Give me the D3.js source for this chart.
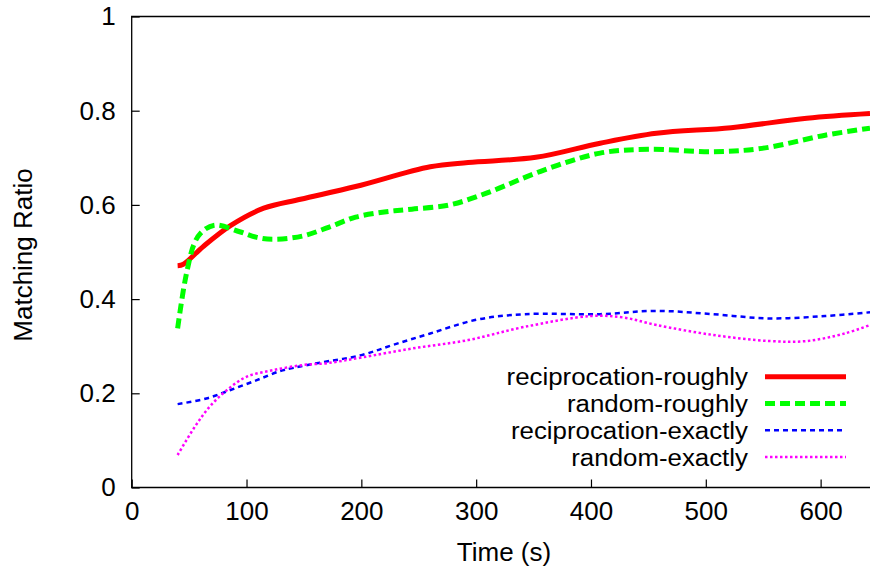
<!DOCTYPE html>
<html>
<head>
<meta charset="utf-8">
<script src="https://cdn.jsdelivr.net/npm/d3@7"></script>
<style>
  html, body { margin: 0; padding: 0; background: #fff; }
  svg { display: block; }
  text { font-family: "Liberation Sans", Arial, Helvetica, sans-serif; fill: #000; }
</style>
</head>
<body>
<svg id="chart" width="870" height="571"></svg>
<script>
// ---- data ----
const xTicks = [0, 100, 200, 300, 400, 500, 600];
const yTicks = [0, 0.2, 0.4, 0.6, 0.8, 1];
const yTickLabels = ["0", "0.2", "0.4", "0.6", "0.8", "1"];
const seriesNames = ["reciprocation-roughly", "random-roughly", "reciprocation-exactly", "random-exactly"];

const recipRoughT = [40, 45, 62, 86, 115, 147, 195, 260, 293, 352, 408, 457, 522, 588, 643];
const recipRoughV = [0.471, 0.474, 0.511, 0.556, 0.593, 0.612, 0.639, 0.681, 0.690, 0.701, 0.731, 0.752, 0.764, 0.784, 0.794];

const randRoughT = [40, 45, 49, 54, 60, 72, 94, 109, 123, 149, 172, 195, 220, 244, 277, 309, 359, 408, 450, 506, 549, 604, 643];
const randRoughV = [0.338, 0.419, 0.469, 0.515, 0.540, 0.557, 0.543, 0.531, 0.527, 0.534, 0.553, 0.574, 0.585, 0.591, 0.600, 0.625, 0.674, 0.710, 0.718, 0.713, 0.720, 0.748, 0.763];

const recipExactT = [40, 65, 86, 109, 129, 141, 164, 200, 228, 260, 300, 342, 408, 457, 506, 555, 604, 643];
const recipExactV = [0.177, 0.189, 0.207, 0.228, 0.247, 0.254, 0.265, 0.281, 0.303, 0.327, 0.356, 0.368, 0.368, 0.375, 0.368, 0.359, 0.364, 0.372];

const randExactT = [40, 55, 68, 83, 100, 123, 149, 170, 200, 244, 293, 342, 400, 428, 457, 506, 555, 588, 621, 643];
const randExactV = [0.069, 0.129, 0.172, 0.207, 0.235, 0.249, 0.260, 0.264, 0.276, 0.295, 0.313, 0.341, 0.364, 0.361, 0.345, 0.324, 0.311, 0.311, 0.327, 0.345];

// ---- layout ----
const mLeft = 131.7, mTop = 16.5, mBottom = 487.5, mRight = 870;
const svg = d3.select("#chart");
const x = d3.scaleLinear().domain([0, 643]).range([mLeft, mRight]);
const y = d3.scaleLinear().domain([0, 1]).range([mBottom, mTop]);

const styles = [
  { color: "#ff0000", width: 5, dash: null },
  { color: "#00ff00", width: 5, dash: "10,5" },
  { color: "#0000ff", width: 2.5, dash: "5,4" },
  { color: "#ff00ff", width: 2.5, dash: "2.5,2.5" }
];
const series = [
  { t: recipRoughT, v: recipRoughV },
  { t: randRoughT, v: randRoughV },
  { t: recipExactT, v: recipExactV },
  { t: randExactT, v: randExactV }
];

// frame (right border falls outside the picture)
svg.append("path")
  .attr("d", `M${mRight + 20},${mTop}H${mLeft}V${mBottom}H${mRight + 20}`)
  .attr("fill", "none").attr("stroke", "#000").attr("stroke-width", 1.3);

// axes via d3
const fontSize = 26;
const xAxis = d3.axisBottom(x).tickValues(xTicks).tickSize(-8).tickPadding(14).tickFormat(d3.format("d"));
const gx = svg.append("g").attr("transform", `translate(0,${mBottom})`).call(xAxis);
gx.select(".domain").remove();
gx.selectAll(".tick line").attr("stroke", "#000").attr("stroke-width", 1.2);
gx.selectAll(".tick text").attr("font-size", fontSize).attr("font-family", "Liberation Sans, Arial, sans-serif").attr("fill", "#000");

const yAxis = d3.axisLeft(y).tickValues(yTicks).tickSize(-8).tickPadding(16)
  .tickFormat((d, i) => yTickLabels[i]);
const gy = svg.append("g").attr("transform", `translate(${mLeft},0)`).call(yAxis);
gy.select(".domain").remove();
gy.selectAll(".tick line").attr("stroke", "#000").attr("stroke-width", 1.2);
gy.selectAll(".tick text").attr("font-size", fontSize).attr("font-family", "Liberation Sans, Arial, sans-serif").attr("fill", "#000");

// axis titles
svg.append("text").attr("x", 504).attr("y", 561).attr("text-anchor", "middle")
  .attr("font-size", fontSize).text("Time (s)");
svg.append("text").attr("transform", "translate(32,255) rotate(-90)").attr("text-anchor", "middle")
  .attr("font-size", fontSize).text("Matching Ratio");

// lines
svg.append("clipPath").attr("id", "plotclip").append("rect")
  .attr("x", mLeft).attr("y", mTop).attr("width", 1000).attr("height", mBottom - mTop);
const line = d3.line().x(d => x(d[0])).y(d => y(d[1])).curve(d3.curveCatmullRom.alpha(0.5));
const plot = svg.append("g").attr("clip-path", "url(#plotclip)");
series.forEach((s, i) => {
  const pts = s.t.map((t, j) => [t, s.v[j]]);
  plot.append("path").datum(pts).attr("d", line)
    .attr("fill", "none").attr("stroke", styles[i].color)
    .attr("stroke-width", styles[i].width)
    .attr("stroke-dasharray", styles[i].dash)
    .attr("stroke-linejoin", "round");
});

// legend (slightly condensed height, stretched width as in the reference)
const legFont = 23.5, legStretch = 1.1;
const legY0 = 376.7, legDy = 26.8, legTextX = 748, legL0 = 765, legL1 = 846;
seriesNames.forEach((name, i) => {
  const yy = legY0 + i * legDy;
  const t = svg.append("text").attr("x", legTextX).attr("y", yy).attr("dy", "0.36em")
    .attr("text-anchor", "end").attr("font-size", legFont).text(name);
  const w = t.node().getComputedTextLength();
  t.attr("textLength", w * legStretch).attr("lengthAdjust", "spacingAndGlyphs");
  svg.append("line").attr("x1", legL0).attr("x2", legL1).attr("y1", yy).attr("y2", yy)
    .attr("stroke", styles[i].color).attr("stroke-width", styles[i].width)
    .attr("stroke-dasharray", styles[i].dash);
});
</script>
</body>
</html>
